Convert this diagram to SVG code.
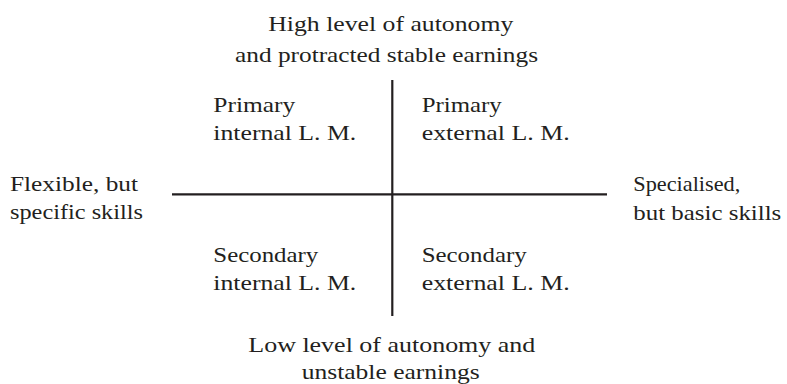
<svg xmlns="http://www.w3.org/2000/svg" width="787" height="384" viewBox="0 0 787 384">
<style>
text{font-family:"Liberation Serif","Times New Roman",serif;font-size:22px;fill:#231f20}
.ax{stroke:#231f20;stroke-width:2.2;fill:none}
</style>
<rect width="787" height="384" fill="#fff"/>
<g id="connectors">
<line class="ax" x1="172" y1="194.3" x2="607" y2="194.3"/>
<line class="ax" x1="392.3" y1="80" x2="392.3" y2="316"/>
</g>
<g id="top">
<text x="268.3" y="30.5" textLength="245" lengthAdjust="spacingAndGlyphs">High level of autonomy</text>
<text x="235" y="61.5" textLength="303" lengthAdjust="spacingAndGlyphs">and protracted stable earnings</text>
</g>
<g id="bottom">
<text x="248.3" y="351.5" textLength="287" lengthAdjust="spacingAndGlyphs">Low level of autonomy and</text>
<text x="301.7" y="379" textLength="178" lengthAdjust="spacingAndGlyphs">unstable earnings</text>
</g>
<g id="left">
<text x="10" y="191" textLength="128" lengthAdjust="spacingAndGlyphs">Flexible, but</text>
<text x="10" y="219" textLength="133" lengthAdjust="spacingAndGlyphs">specific skills</text>
</g>
<g id="right">
<text x="633.3" y="191" textLength="107" lengthAdjust="spacingAndGlyphs">Specialised,</text>
<text x="633.3" y="219.5" textLength="148" lengthAdjust="spacingAndGlyphs">but basic skills</text>
</g>
<g id="primary-internal">
<text x="213.3" y="112" textLength="82" lengthAdjust="spacingAndGlyphs">Primary</text>
<text x="213.3" y="140" textLength="143" lengthAdjust="spacingAndGlyphs">internal L. M.</text>
</g>
<g id="primary-external">
<text x="421.7" y="112" textLength="80" lengthAdjust="spacingAndGlyphs">Primary</text>
<text x="421.7" y="140" textLength="148" lengthAdjust="spacingAndGlyphs">external L. M.</text>
</g>
<g id="secondary-internal">
<text x="213.3" y="261.7" textLength="105" lengthAdjust="spacingAndGlyphs">Secondary</text>
<text x="213.3" y="289.5" textLength="143" lengthAdjust="spacingAndGlyphs">internal L. M.</text>
</g>
<g id="secondary-external">
<text x="421.7" y="261.7" textLength="105" lengthAdjust="spacingAndGlyphs">Secondary</text>
<text x="421.7" y="289.5" textLength="148" lengthAdjust="spacingAndGlyphs">external L. M.</text>
</g>
</svg>
